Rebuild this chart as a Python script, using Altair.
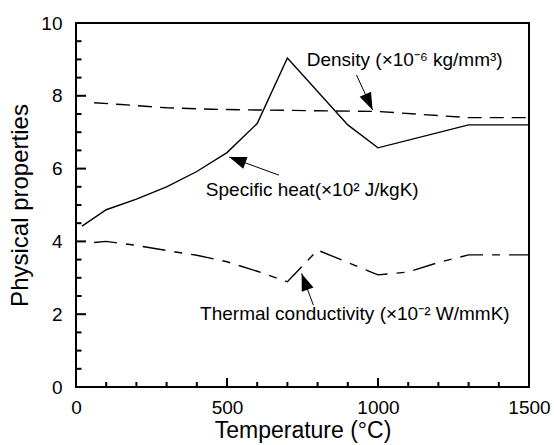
import math
import altair as alt
import pandas as pd

# ---- data ----
sh_T = [20, 100, 200, 300, 400, 500, 600, 700, 900, 1000, 1300, 1500]
sh_v = [4.42, 4.87, 5.16, 5.50, 5.92, 6.44, 7.24, 9.04, 7.20, 6.57, 7.20, 7.20]

den_T = [60, 150, 300, 450, 600, 800, 1000, 1300, 1500]
den_v = [7.81, 7.76, 7.67, 7.63, 7.61, 7.59, 7.57, 7.40, 7.40]

tc_T = [60, 100, 200, 300, 400, 500, 600, 700, 800, 900, 1000, 1100, 1200, 1300, 1500]
tc_v = [3.97, 4.00, 3.89, 3.75, 3.62, 3.44, 3.18, 2.89, 3.76, 3.42, 3.08, 3.16, 3.42, 3.63, 3.63]

labels = ["Specific heat(×10² J/kgK)", "Density (×10⁻⁶ kg/mm³)", "Thermal conductivity (×10⁻² W/mmK)"]
label_T = [430, 764, 411]
label_v = [5.42, 8.98, 2.00]

arrow_tail_T = [672, 929, 786]
arrow_tail_v = [5.82, 8.57, 2.25]
arrow_tip_T = [507, 982, 747]
arrow_tip_v = [6.32, 7.61, 3.12]

x_major = [500, 1000]
x_minor = [t for t in range(100, 1500, 100) if t not in (500, 1000)]
y_major = [2, 4, 6, 8]
y_minor = [0.5, 1, 1.5, 2.5, 3, 3.5, 4.5, 5, 5.5, 6.5, 7, 7.5, 8.5, 9, 9.5]

x_label_values = [0, 500, 1000, 1500]
y_label_values = [0, 2, 4, 6, 8, 10]

# ---- layout ----
W, H = 453, 364
XMAX, YMAX = 1500, 10
FONT = "Liberation Sans"

xs = alt.Scale(domain=[0, XMAX], nice=False, zero=False)
ys = alt.Scale(domain=[0, YMAX], nice=False, zero=False)

x_axis = alt.Axis(values=x_label_values, ticks=False, tickSize=0, domain=False, grid=False,
                  format="d", labelFontSize=19, labelFont=FONT, labelPadding=11,
                  labelColor="black", labelFlush=False, labelOverlap=False,
                  title="Temperature (°C)", titleFont=FONT, titleFontSize=23,
                  titleFontWeight="normal", titleColor="black", titlePadding=2)
y_axis = alt.Axis(values=y_label_values, ticks=False, tickSize=0, domain=False, grid=False,
                  labelFontSize=19, labelFont=FONT, labelPadding=14, labelColor="black",
                  format="d", labelFlush=False, labelOverlap=False,
                  title="Physical properties", titleFont=FONT, titleFontSize=24,
                  titleFontWeight="normal", titleColor="black", titlePadding=8)


def X(field="T"):
    return alt.X(f"{field}:Q", scale=xs, axis=x_axis)


def Y(field="v"):
    return alt.Y(f"{field}:Q", scale=ys, axis=y_axis)


sh_df = pd.DataFrame({"T": sh_T, "v": sh_v})
den_df = pd.DataFrame({"T": den_T, "v": den_v})
tc_df = pd.DataFrame({"T": tc_T, "v": tc_v})

sh_line = alt.Chart(sh_df).mark_line(color="black", strokeWidth=1.4).encode(x=X(), y=Y())
den_line = alt.Chart(den_df).mark_line(color="black", strokeWidth=1.4, strokeDash=[14, 8]).encode(
    x=X(), y=Y())
tc_line = alt.Chart(tc_df).mark_line(color="black", strokeWidth=1.4, strokeDash=[23, 9, 8, 9]).encode(
    x=X(), y=Y())

# inward ticks
xmaj = alt.Chart(pd.DataFrame({"T": x_major})).mark_rule(color="black", strokeWidth=2).encode(
    x=X(), y=alt.value(H), y2=alt.value(H - 9))
xmin = alt.Chart(pd.DataFrame({"T": x_minor})).mark_rule(color="black", strokeWidth=2).encode(
    x=X(), y=alt.value(H), y2=alt.value(H - 5))
ymaj = alt.Chart(pd.DataFrame({"v": y_major})).mark_rule(color="black", strokeWidth=2).encode(
    y=Y(), x=alt.value(0), x2=alt.value(10))
ymin = alt.Chart(pd.DataFrame({"v": y_minor})).mark_rule(color="black", strokeWidth=2).encode(
    y=Y(), x=alt.value(0), x2=alt.value(5.5))

# annotations
sx = W / XMAX
sy = H / YMAX
angles = []
for t0, v0, t1, v1 in zip(arrow_tail_T, arrow_tail_v, arrow_tip_T, arrow_tip_v):
    dx = (t1 - t0) * sx
    dy = -(v1 - v0) * sy
    angles.append(math.degrees(math.atan2(dx, -dy)) % 360)

arr_df = pd.DataFrame({"T": arrow_tail_T, "v": arrow_tail_v,
                       "T2": arrow_tip_T, "v2": arrow_tip_v, "ang": angles})
arrow_lines = alt.Chart(arr_df).mark_rule(color="black", strokeWidth=1).encode(
    x=X(), y=Y(), x2="T2:Q", y2="v2:Q")
arrow_heads = alt.Chart(arr_df).mark_point(
    shape="M0,0L-0.36,1L0.36,1Z", filled=True, color="black", opacity=1, size=1200,
    strokeWidth=0).encode(x=X("T2"), y=Y("v2"), angle=alt.Angle("ang:Q", scale=None))

txt_df = pd.DataFrame({"T": label_T, "v": label_v, "label": labels})
texts = alt.Chart(txt_df).mark_text(align="left", baseline="middle", font=FONT,
                                    fontSize=19, color="black").encode(
    x=X(), y=Y(), text="label:N")

chart = alt.layer(sh_line, den_line, tc_line, xmaj, xmin, ymaj, ymin,
                  arrow_lines, arrow_heads, texts).properties(
    width=W, height=H,
    autosize=alt.AutoSizeParams(type="none"),
    padding={"left": 76, "top": 23, "right": 25, "bottom": 58},
    background="white",
).configure_view(stroke="black", strokeWidth=2)

chart.save("out.html", embed_options={"renderer": "svg", "actions": False})
